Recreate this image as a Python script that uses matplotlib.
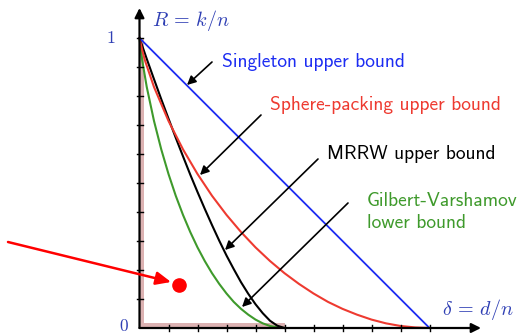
import matplotlib
matplotlib.use('Agg')
import matplotlib.pyplot as plt
from matplotlib.patches import Rectangle

# rate bounds (delta = d/n, R = k/n)
delta_singleton = [0.0, 1.0]
rate_singleton = [1.0, 0.0]

delta_sp = [0, 0.01, 0.02, 0.05, 0.1, 0.15, 0.2, 0.25, 0.3, 0.35, 0.4, 0.45, 0.5,
            0.55, 0.6, 0.65, 0.7, 0.75, 0.8, 0.85, 0.9, 0.95, 1.0]
rate_sp = [1.0, 0.955, 0.919, 0.831, 0.714, 0.616, 0.531, 0.456, 0.390, 0.331, 0.278, 0.231, 0.189,
           0.152, 0.119, 0.090, 0.066, 0.046, 0.029, 0.016, 0.007, 0.002, 0.0]

delta_mrrw = [0, 0.025, 0.05, 0.075, 0.1, 0.125, 0.15, 0.175, 0.2, 0.225, 0.25,
              0.275, 0.3, 0.325, 0.35, 0.375, 0.4, 0.425, 0.45, 0.475, 0.5]
rate_mrrw = [1.0, 0.928, 0.858, 0.789, 0.722, 0.656, 0.592, 0.529, 0.469, 0.411, 0.355,
             0.301, 0.250, 0.203, 0.158, 0.118, 0.082, 0.051, 0.025, 0.008, 0.0]

delta_gv = [0, 0.005, 0.01, 0.025, 0.05, 0.075, 0.1, 0.125, 0.15, 0.175, 0.2, 0.225, 0.25,
            0.275, 0.3, 0.325, 0.35, 0.375, 0.4, 0.425, 0.45, 0.475, 0.5]
rate_gv = [1.0, 0.955, 0.919, 0.831, 0.714, 0.616, 0.531, 0.456, 0.390, 0.331, 0.278, 0.231, 0.189,
           0.152, 0.119, 0.090, 0.066, 0.046, 0.029, 0.016, 0.007, 0.002, 0.0]

tick_vals = [0.1, 0.2, 0.3, 0.4, 0.5, 0.6, 0.7, 0.8, 0.9, 1.0]
example_code = (0.135, 0.15)   # the red dot

BLUE = '#1c2cf2'
RED = '#ee3a30'
GREEN = '#3f9a2c'
LBLUE = '#2f3fb4'
PINK = '#dcb2b2'

plt.rcParams['mathtext.fontset'] = 'cm'
sans = ['cmss10', 'DejaVu Sans']

fig = plt.figure(figsize=(5.17, 3.34), dpi=100)
ax = fig.add_axes([0, 0, 1, 1])
# origin at pixel (139.5, 328), 290 px per unit
ax.set_xlim(-139.5 / 290, (517 - 139.5) / 290)
ax.set_ylim(-(334 - 328) / 290, 328 / 290)
ax.axis('off')

def px(x, y):
    return ((x - 139.5) / 290, (328 - y) / 290)

# pink strips along the axes
ax.add_patch(Rectangle((0, 0), 0.016, 1.0, color=PINK, lw=0, zorder=1))
ax.add_patch(Rectangle((0, 0), 0.5, 0.016, color=PINK, lw=0, zorder=1))

ax.plot(delta_gv, rate_gv, color=GREEN, lw=1.5, zorder=3)
ax.plot(delta_mrrw, rate_mrrw, color='black', lw=1.5, zorder=3)
ax.plot(delta_sp, rate_sp, color=RED, lw=1.5, zorder=3)
ax.plot(delta_singleton, rate_singleton, color=BLUE, lw=1.3, zorder=3)

# axes with arrow heads
axis_arrow = dict(arrowstyle='-|>', lw=1.6, color='black', mutation_scale=14,
                  shrinkA=0, shrinkB=0)
ax.annotate('', xy=px(481, 328), xytext=px(139.5, 328), arrowprops=axis_arrow, zorder=4)
ax.annotate('', xy=px(139.5, 8), xytext=px(139.5, 328), arrowprops=axis_arrow, zorder=4)
t = 3 / 290
for v in tick_vals:
    ax.plot([v, v], [-t, t], color='black', lw=1, zorder=4)
    if v < 1.0:
        ax.plot([-t, t], [v, v], color='black', lw=1, zorder=4)
ax.plot([-t, t], [1.0, 1.0], color='black', lw=1, zorder=4)

ax.text(*px(116, 38), '$1$', color=LBLUE, fontsize=13, ha='right', va='center')
ax.text(*px(129, 331), '$0$', color=LBLUE, fontsize=12.5, ha='right', va='baseline')
ax.text(*px(152, 26), r'$R\,=\,k/n$', color=LBLUE, fontsize=14.5, ha='left', va='baseline')
ax.text(*px(442, 315), r'$\delta\,=\,d/n$', color=LBLUE, fontsize=14.5, ha='left', va='baseline')

# labels
fs = 14
ax.text(*px(222, 67), 'Singleton upper bound', color=BLUE, fontsize=fs,
        family=sans, ha='left', va='baseline')
ax.text(*px(270, 110), 'Sphere-packing upper bound', color=RED, fontsize=fs,
        family=sans, ha='left', va='baseline')
ax.text(*px(327, 159), 'MRRW upper bound', color='black', fontsize=fs,
        family=sans, ha='left', va='baseline')
ax.text(*px(367, 206), 'Gilbert-Varshamov', color=GREEN, fontsize=fs,
        family=sans, ha='left', va='baseline')
ax.text(*px(367, 228), 'lower bound', color=GREEN, fontsize=fs,
        family=sans, ha='left', va='baseline')

pointer = dict(arrowstyle='-|>', lw=1.2, color='black', mutation_scale=13,
               shrinkA=0, shrinkB=0)
ax.annotate('', xy=px(187, 85), xytext=px(212, 62), arrowprops=pointer, zorder=5)
ax.annotate('', xy=px(200, 175), xytext=px(261, 115), arrowprops=pointer, zorder=5)
ax.annotate('', xy=px(225, 250), xytext=px(318, 159), arrowprops=pointer, zorder=5)
ax.annotate('', xy=px(242, 307), xytext=px(348, 203), arrowprops=pointer, zorder=5)

# red example point with arrow from the left
ax.plot([example_code[0]], [example_code[1]], 'o', color='#ff0000', ms=9.5, zorder=5)
ax.annotate('', xy=px(171, 282), xytext=px(8, 242),
            arrowprops=dict(arrowstyle='-|>,head_length=0.5,head_width=0.22', lw=1.8,
                            color='#ff0000', mutation_scale=18,
                            shrinkA=0, shrinkB=0), zorder=5)

fig.savefig('out.png', dpi=100)
